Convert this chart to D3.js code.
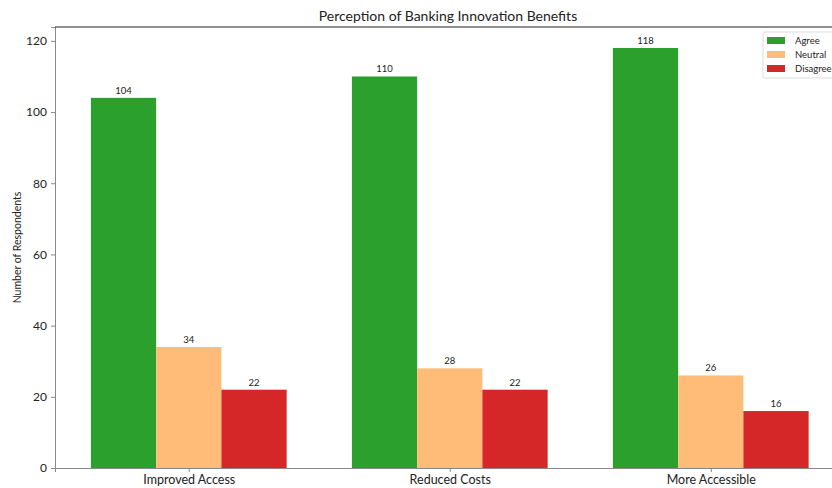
<!DOCTYPE html>
<html>
<head>
<meta charset="utf-8">
<title>Perception of Banking Innovation Benefits</title>
<style>
	body { margin: 0; background: #fff; }
	svg { display: block; font-family: Lato, "Noto Sans", sans-serif; }
</style>
</head>
<body>
<svg width="832" height="488"></svg>
<script src="https://cdn.jsdelivr.net/npm/d3@7/dist/d3.min.js"></script>
<script>
	// data
	const categories = ["Improved Access", "Reduced Costs", "More Accessible"]
	const seriesNames = ["Agree", "Neutral", "Disagree"]
	const agree = [104, 110, 118]
	const neutral = [34, 28, 26]
	const disagree = [22, 22, 16]
	const yTicks = [0, 20, 40, 60, 80, 100, 120]
	const colors = ["#2ca02c", "#ffbb78", "#d62728"]

	const series = [agree, neutral, disagree]
	const barW = 0.25

	const svg = d3.select("svg")
	const mLeft = 55, mTop = 27, mBottom = 468

	// x in data units (group index), like matplotlib
	const x = d3.scaleLinear().domain([-0.5125, 2.5125]).range([mLeft, mLeft + 3.025 * 261])
	const y = d3.scaleLinear().domain([0, 123.9]).range([mBottom, mTop])

	const plot = svg.append("g")

	series.forEach((vals, s) => {
		plot.append("g").selectAll("rect").data(vals).enter().append("rect")
			.attr("x", (d, i) => x(i + (s - 1) * barW - barW / 2))
			.attr("width", x(barW) - x(0))
			.attr("y", d => y(d))
			.attr("height", d => y(0) - y(d))
			.attr("fill", colors[s])

		plot.append("g").selectAll("text").data(vals).enter().append("text")
			.attr("x", (d, i) => x(i + (s - 1) * barW))
			.attr("y", d => y(d) - 4)
			.attr("text-anchor", "middle")
			.attr("font-size", "9.5px").attr("fill", "#222")
			.text(d => d)
	})

	// axes
	const yAxis = svg.append("g").attr("transform", `translate(${mLeft},0)`)
		.call(d3.axisLeft(y).tickValues(yTicks).tickSize(4).tickPadding(4))
	yAxis.select(".domain").attr("stroke", "#888")
	yAxis.selectAll(".tick line").attr("stroke", "#888")
	yAxis.selectAll("text").attr("font-size", "12px").attr("fill", "#222")
		.attr("font-family", "Lato, 'Noto Sans', sans-serif")

	const xAxis = svg.append("g").attr("transform", `translate(0,${mBottom})`)
		.call(d3.axisBottom(x).tickValues([0, 1, 2]).tickFormat(i => categories[i]).tickSize(4).tickPadding(3))
	xAxis.select(".domain").attr("stroke", "#888")
	xAxis.selectAll(".tick line").attr("stroke", "#888")
	xAxis.selectAll("text").attr("font-size", "12.5px").attr("fill", "#222")
		.attr("font-family", "Lato, 'Noto Sans', sans-serif")

	// top spine
	svg.append("line")
		.attr("x1", mLeft).attr("x2", 832).attr("y1", mTop).attr("y2", mTop)
		.attr("stroke", "#222").attr("stroke-width", 1.2)

	// title
	svg.append("text")
		.attr("x", 448).attr("y", 21)
		.attr("text-anchor", "middle").attr("font-size", "14px").attr("fill", "#222")
		.text("Perception of Banking Innovation Benefits")

	// y label
	svg.append("text")
		.attr("transform", `translate(21,${(mTop + mBottom) / 2}) rotate(-90)`)
		.attr("text-anchor", "middle").attr("font-size", "10.5px").attr("fill", "#222")
		.text("Number of Respondents")

	// legend
	const lg = svg.append("g").attr("transform", "translate(763,32)")
	lg.append("rect")
		.attr("width", 90).attr("height", 46).attr("rx", 2)
		.attr("fill", "#fff").attr("stroke", "#ddd")
	seriesNames.forEach((n, i) => {
		lg.append("rect")
			.attr("x", 4).attr("y", 5 + i * 14).attr("width", 18).attr("height", 7)
			.attr("fill", colors[i])
		lg.append("text")
			.attr("x", 32).attr("y", 12 + i * 14)
			.attr("font-size", "9.5px").attr("fill", "#222")
			.text(n)
	})
</script>
</body>
</html>
